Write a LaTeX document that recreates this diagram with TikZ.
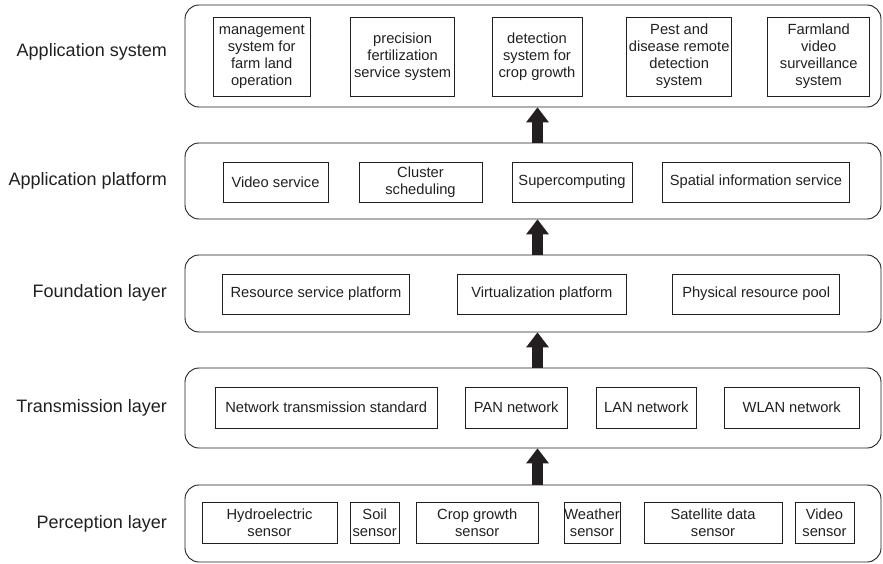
\documentclass[tikz,border=0pt]{standalone}
\usepackage{fontspec}
\setmainfont{Liberation Sans}
\usetikzlibrary{arrows.meta}
\definecolor{ink}{HTML}{231F20}
\begin{document}
\begin{tikzpicture}[x=1pt,y=-1pt,
  layerbox/.style={draw=ink,line width=0.9pt,rounded corners=14pt,minimum width=696pt,inner sep=0pt},
  itembox/.style={draw=ink,line width=0.8pt,inner sep=0pt,align=center,text=ink,
     font=\fontsize{14.7}{17}\selectfont},
  layerlabel/.style={anchor=east,inner sep=0pt,text=ink,font=\fontsize{18}{21}\selectfont},
  bigarrow/.style={draw=ink,line width=11pt,-{Triangle[length=15pt,width=23pt,line width=0pt]}}]
\useasboundingbox (0,0) rectangle (883,564);
% layers
\node[layerbox,minimum height=102pt] (L1) at (533,56) {};
\node[layerbox,minimum height=76pt] (L2) at (533,181) {};
\node[layerbox,minimum height=77pt] (L3) at (533,293.5) {};
\node[layerbox,minimum height=80pt] (L4) at (533,408) {};
\node[layerbox,minimum height=77pt] (L5) at (533,523.5) {};
% labels
\node[layerlabel] (T1) at (167,52) {Application system};
\node[layerlabel] (T2) at (167,181) {Application platform};
\node[layerlabel] (T3) at (167,293) {Foundation layer};
\node[layerlabel] (T4) at (167,408) {Transmission layer};
\node[layerlabel] (T5) at (167,524) {Perception layer};
% layer 1
\node[itembox,minimum width=96.7pt,minimum height=79pt] (a1) at (261.7,56.5) {management\\system for\\farm land\\operation};
\node[itembox,minimum width=104.3pt,minimum height=79pt] (a2) at (402.6,56.5) {precision\\fertilization\\service system};
\node[itembox,minimum width=90pt,minimum height=79pt] (a3) at (537,56.5) {detection\\system for\\crop growth};
\node[itembox,minimum width=104.7pt,minimum height=79pt] (a4) at (679.2,56.5) {Pest and\\disease remote\\detection\\system};
\node[itembox,minimum width=102.1pt,minimum height=79pt] (a5) at (818.7,56.5) {Farmland\\video\\surveillance\\system};
% layer 2
\node[itembox,minimum width=105pt,minimum height=40pt] (p1) at (275.5,182) {Video service};
\node[itembox,minimum width=123pt,minimum height=40pt] (p2) at (420.5,182) {Cluster\\scheduling};
\node[itembox,minimum width=120pt,minimum height=40pt] (p3) at (572,182) {Supercomputing};
\node[itembox,minimum width=186.6pt,minimum height=40pt] (p4) at (756,182) {Spatial information service};
% layer 3
\node[itembox,minimum width=187.5pt,minimum height=40pt] (f1) at (316,294) {Resource service platform};
\node[itembox,minimum width=168.5pt,minimum height=40pt] (f2) at (541.8,294) {Virtualization platform};
\node[itembox,minimum width=166.8pt,minimum height=40pt] (f3) at (756.2,294) {Physical resource pool};
% layer 4
\node[itembox,minimum width=222.3pt,minimum height=41pt] (t1) at (326.2,407.5) {Network transmission standard};
\node[itembox,minimum width=102.3pt,minimum height=41pt] (t2) at (516.2,407.5) {PAN network};
\node[itembox,minimum width=100.7pt,minimum height=41pt] (t3) at (646.3,407.5) {LAN network};
\node[itembox,minimum width=135.3pt,minimum height=41pt] (t4) at (791.7,407.5) {WLAN network};
% layer 5
\node[itembox,minimum width=135pt,minimum height=41pt] (s1) at (269.5,522.5) {Hydroelectric\\sensor};
\node[itembox,minimum width=48.5pt,minimum height=41pt] (s2) at (374.7,522.5) {Soil\\sensor};
\node[itembox,minimum width=121.5pt,minimum height=41pt] (s3) at (477.2,522.5) {Crop growth\\sensor};
\node[itembox,minimum width=56pt,minimum height=41pt] (s4) at (592,522.5) {Weather\\sensor};
\node[itembox,minimum width=138pt,minimum height=41pt] (s5) at (713,522.5) {Satellite data\\sensor};
\node[itembox,minimum width=59pt,minimum height=41pt] (s6) at (824.5,522.5) {Video\\sensor};
% arrows
\coordinate (ax) at (537.5,0);
\draw[bigarrow] (L2.north -| ax) -- (L1.south -| ax);
\draw[bigarrow] (L3.north -| ax) -- (L2.south -| ax);
\draw[bigarrow] (L4.north -| ax) -- (L3.south -| ax);
\draw[bigarrow] (L5.north -| ax) -- (L4.south -| ax);
\end{tikzpicture}
\end{document}
